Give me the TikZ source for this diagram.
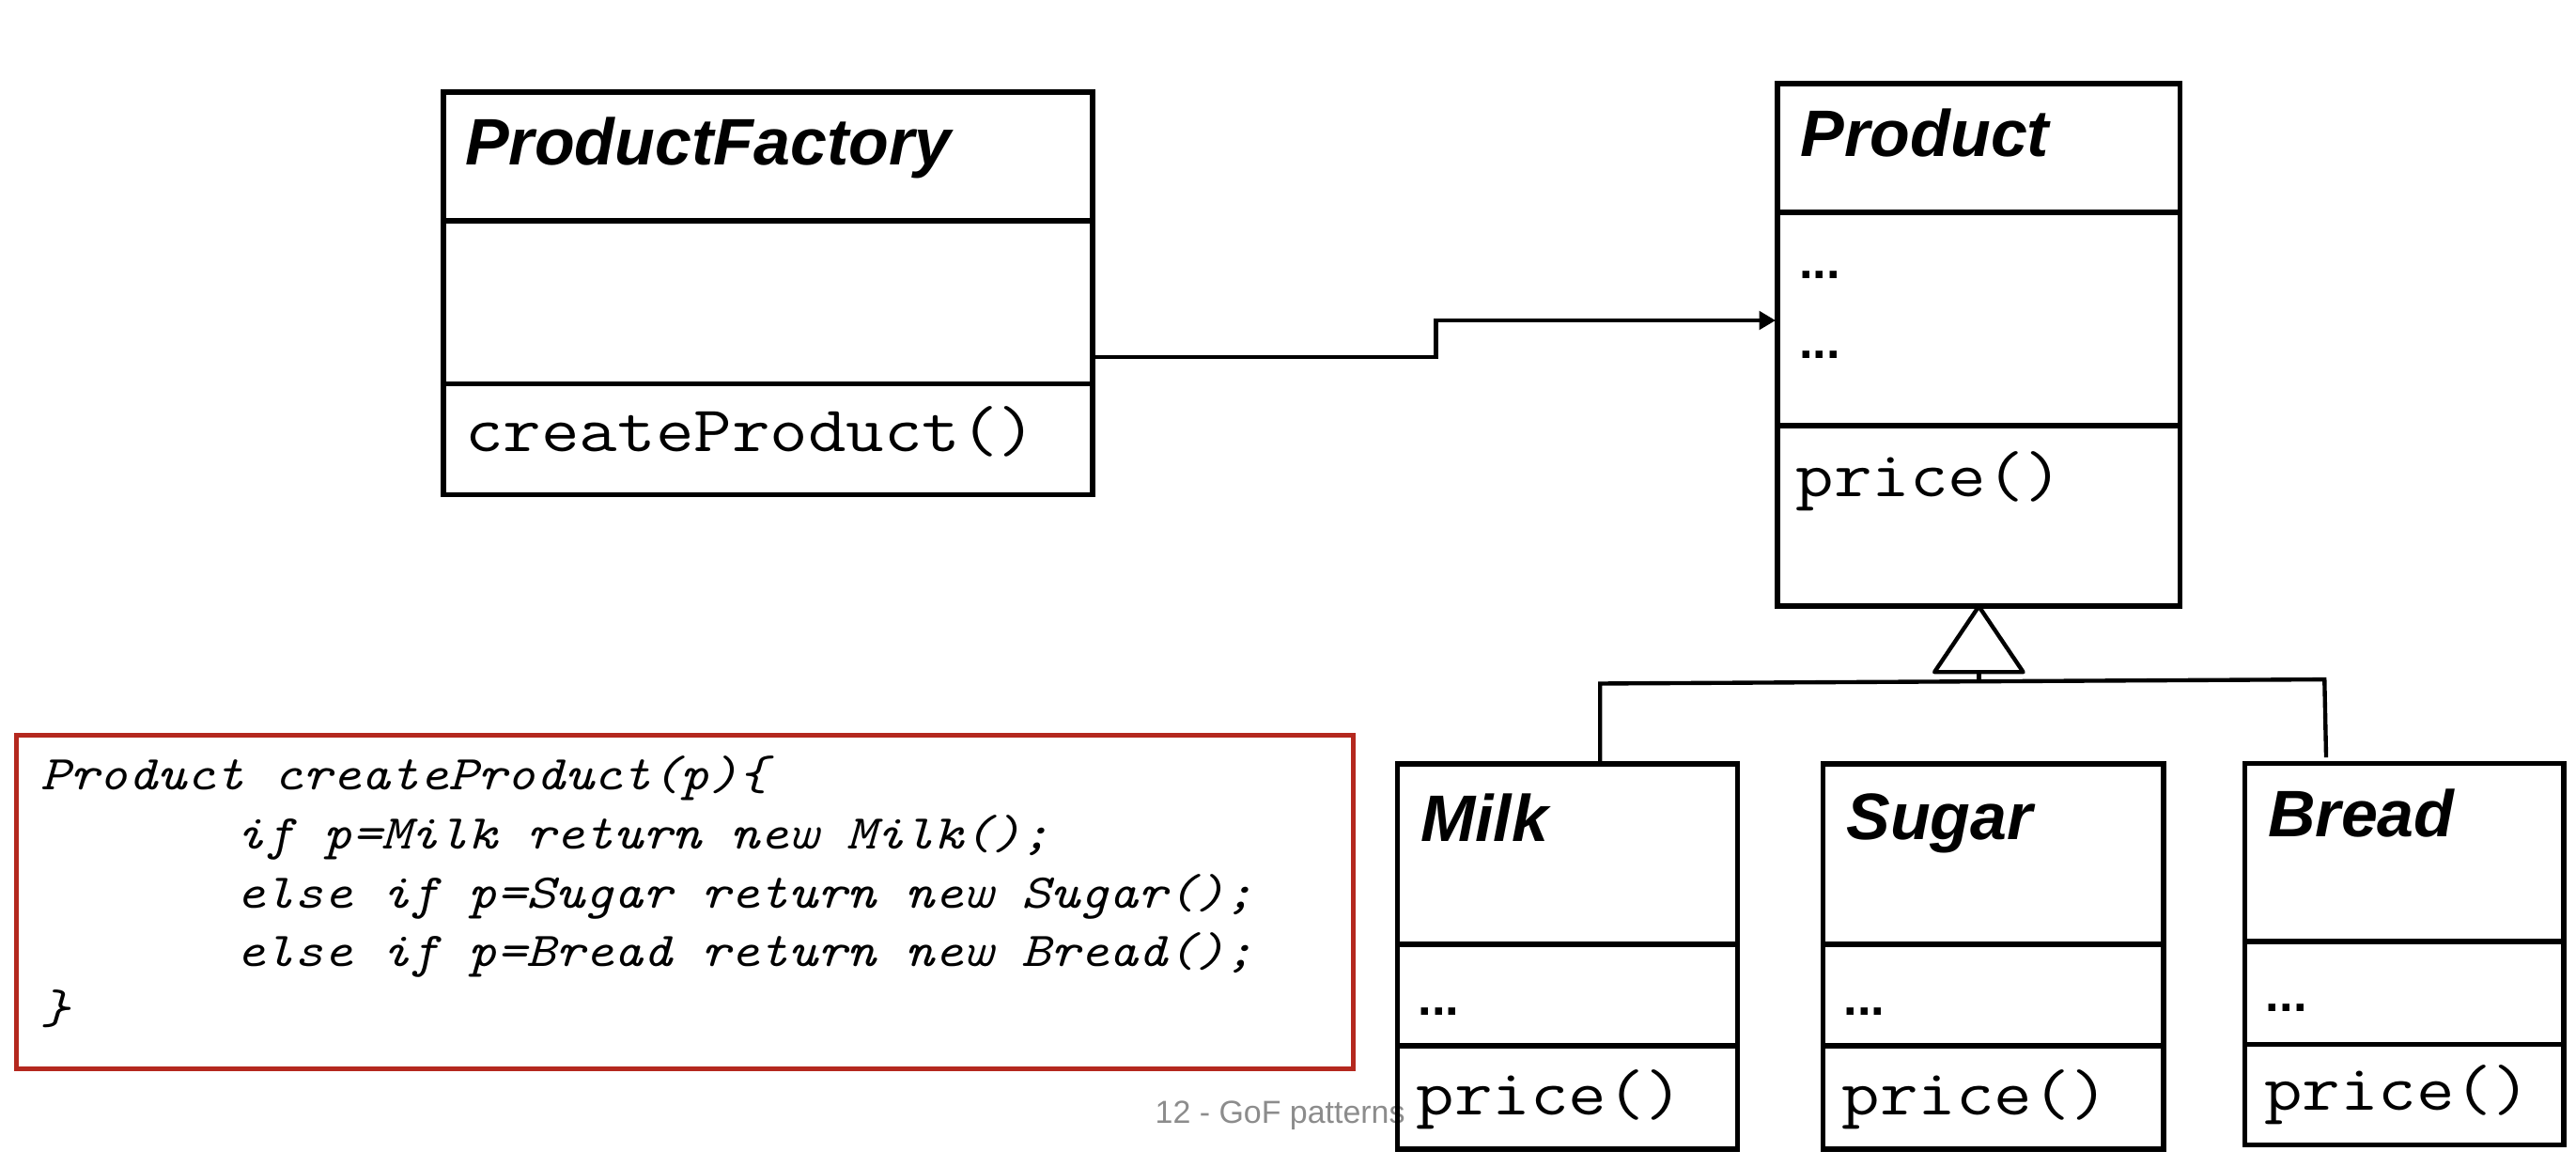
\documentclass[tikz,border=0pt]{standalone}
\usepackage{fontspec}
\setmainfont{Liberation Sans}
\usetikzlibrary{arrows.meta}
\definecolor{codered}{RGB}{180,40,30}
\definecolor{footgray}{RGB}{140,140,140}
\newcommand{\cwtxt}[1]{\scalebox{1.14}[1]{#1}}
\begin{document}
\begin{tikzpicture}[x=1pt,y=-1pt,
  cls/.style={draw, line width=3.2pt, inner sep=0pt, outer sep=0pt, anchor=north west},
  ttl/.style={anchor=base west, inner sep=0pt, font=\fontsize{40}{48}\selectfont\bfseries\itshape},
  meth/.style={anchor=base west, inner sep=0pt, font=\ttfamily\fontsize{39.5}{48}\selectfont},
  dotsl/.style={anchor=base west, inner sep=0pt, font=\fontsize{30}{36}\selectfont\bfseries},
  codeln/.style={anchor=base west, inner sep=0pt, font=\ttfamily\itshape\fontsize{29.6}{36}\selectfont},
  divl/.style={line width=3.2pt},
  conn/.style={line width=2.5pt}]
\useasboundingbox (0,0) rectangle (1568,710.2);

% footer (drawn first, under the boxes)
\node[anchor=base west, inner sep=0pt, text=footgray, font=\fontsize{19.4}{23}\selectfont] (foot) at (703,683.4) {12 - GoF patterns};

% ProductFactory
\node[cls, minimum width=395pt, minimum height=245pt] (pf) at (270,56) {};
\draw[divl] (270,134.4) -- (665,134.4);
\draw[divl] (270,233.6) -- (665,233.6);
\node[ttl] (pft) at (283,100.6) {ProductFactory};
\node[meth] (pfm) at (283,275) {\cwtxt{createProduct()}};

% Product
\node[cls, minimum width=245pt, minimum height=318pt] (prod) at (1082,51) {};
\draw[divl] (1082,129.4) -- (1327,129.4);
\draw[divl] (1082,259.2) -- (1327,259.2);
\node[ttl] (prodt) at (1096,95.2) {Product};
\node[dotsl] (prodd1) at (1095,169.4) {...};
\node[dotsl] (prodd2) at (1095,217.9) {...};
\node[meth] (prodm) at (1093,302) {\cwtxt{price()}};

% Milk
\node[cls, minimum width=207pt, minimum height=234.5pt] (milk) at (850.5,465) {};
\draw[divl] (850.5,574.7) -- (1057.5,574.7);
\draw[divl] (850.5,636.6) -- (1057.5,636.6);
\node[ttl] (milkt) at (864.5,511.8) {Milk};
\node[dotsl] (milkd) at (863,617.6) {...};
\node[meth] (milkm) at (862,678.6) {\cwtxt{price()}};

% Sugar
\node[cls, minimum width=207.3pt, minimum height=234.5pt] (sugar) at (1109.6,465) {};
\draw[divl] (1109.6,574.7) -- (1316.9,574.7);
\draw[divl] (1109.6,636.6) -- (1316.9,636.6);
\node[ttl] (sugart) at (1123.7,510.8) {Sugar};
\node[dotsl] (sugard) at (1122,617.6) {...};
\node[meth] (sugarm) at (1121,678.6) {\cwtxt{price()}};

% Bread
\node[cls, minimum width=194.2pt, minimum height=232.2pt] (bread) at (1366.3,464.5) {};
\draw[divl] (1366.3,573.1) -- (1560.5,573.1);
\draw[divl] (1366.3,635.7) -- (1560.5,635.7);
\node[ttl] (breadt) at (1380.4,509.3) {Bread};
\node[dotsl] (breadd) at (1379,615.3) {...};
\node[meth] (breadm) at (1378,675.8) {\cwtxt{price()}};

% association arrow
\draw[conn, -{Triangle[length=10pt,width=11pt]}, shorten >=1.2pt]
  ([yshift=-38.9pt]pf.east) -- (874,217.4) -- (874,195) -- ([yshift=15pt]prod.west);

% generalization
\draw[conn, line join=round] (prod.south) -- ++(-27,40) -- ++(54,0) -- cycle;
\draw[conn] ([yshift=-40pt]prod.south) -- ([yshift=-46pt]prod.south);
\draw[conn] ([xshift=20pt]milk.north) -- ++(0,-49) -- ([xshift=-48.5pt,yshift=51pt]bread.north) -- ([xshift=-47.5pt,yshift=3.5pt]bread.north);

% code box
\node[draw=codered, line width=2.9pt, inner sep=0pt, outer sep=0pt, anchor=north west,
      minimum width=813.7pt, minimum height=202.8pt] (codebox) at (9.8,447.6) {};
\node[codeln] (c1) at (24.6,480.4) {\cwtxt{Product createProduct(p)\{}};
\node[codeln] (c2) at (143.4,516.6) {\cwtxt{if p=Milk return new Milk();}};
\node[codeln] (c3) at (143.4,552.8) {\cwtxt{else if p=Sugar return new Sugar();}};
\node[codeln] (c4) at (143.4,588.4) {\cwtxt{else if p=Bread return new Bread();}};
\node[codeln] (c5) at (24.6,623.2) {\cwtxt{\}}};
\end{tikzpicture}
\end{document}
